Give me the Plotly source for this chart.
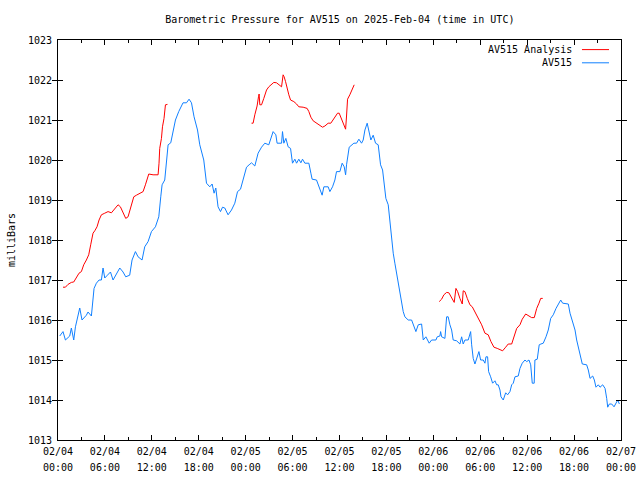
import plotly.graph_objects as go

# ---- data (hours since 2025-02-04 00:00 UTC, pressure in mbar) ----
obs_hours = [0.22, 0.64, 0.95, 1.50, 1.71, 2.01, 2.23, 2.56, 2.78, 3.07, 3.63, 3.84, 4.27, 4.61, 4.91,
             5.25, 5.55, 5.76, 5.98, 6.32, 6.71, 7.04, 7.47, 7.90, 8.32, 8.66, 9.17, 9.47, 9.90, 10.24,
             10.75, 11.09, 11.52, 11.95, 12.46, 12.89, 13.14, 13.31, 13.65, 13.87, 14.08, 14.42, 14.72,
             15.02, 15.44, 15.79, 15.99, 16.43, 16.76, 17.07, 17.40, 17.84, 18.13, 18.64, 18.99, 19.41,
             19.71, 19.96, 20.18, 20.47, 20.78, 21.04, 21.33, 21.75, 22.19, 22.61, 22.96, 23.34, 23.67,
             24.11, 24.44, 24.75, 25.17, 25.59, 26.03, 26.45, 26.96, 27.18, 27.51, 27.86, 28.02, 28.59,
             28.71, 28.88, 29.14, 29.43, 29.74, 29.99, 30.29, 30.51, 30.80, 31.06, 31.27, 31.57, 32.08,
             32.34, 32.50, 33.06, 33.40, 33.78, 34.00, 34.55, 34.77, 35.11, 35.41, 35.62, 36.05, 36.34,
             36.60, 36.78, 36.90, 37.03, 37.24, 37.84, 38.18, 38.48, 38.82, 39.03, 39.25, 39.54, 39.80,
             40.01, 40.31, 40.61, 40.95, 41.25, 41.51, 41.68, 41.93, 42.23, 42.44, 42.66, 42.87, 43.08,
             43.30, 43.51, 43.72, 43.94, 44.15, 44.36, 44.79, 45.22, 45.52, 45.77, 46.07, 46.50, 46.71,
             47.05, 47.47, 47.78, 48.33, 48.50, 48.84, 48.93, 49.06, 49.48, 49.70, 49.90, 50.12, 50.34,
             50.54, 50.98, 51.40, 51.62, 51.82, 52.04, 52.46, 52.77, 52.90, 53.10, 53.32, 53.54, 53.83,
             54.05, 54.38, 54.60, 54.73, 54.94, 55.07, 55.33, 55.58, 55.88, 56.10, 56.30, 56.52, 56.65,
             56.94, 57.25, 57.50, 57.80, 58.02, 58.22, 58.44, 58.86, 59.08, 59.37, 59.72, 59.94, 60.23,
             60.45, 60.65, 60.90, 60.99, 61.29, 61.54, 61.76, 62.06, 62.41, 62.70, 63.01, 63.34, 63.69,
             63.98, 64.29, 64.54, 65.05, 65.26, 65.48, 65.82, 66.12, 66.33, 66.62, 66.84, 67.05, 67.61,
             67.82, 68.04, 68.38, 68.59, 68.80, 69.10, 69.32, 69.66, 69.96, 70.17, 70.30, 70.51, 70.81,
             71.11, 71.36, 71.58, 71.79]
obs_mbar = [1015.60, 1015.71, 1015.50, 1015.60, 1015.80, 1015.50, 1015.83, 1016.08, 1016.30, 1016.00,
            1016.12, 1016.20, 1016.10, 1016.79, 1016.92, 1017.00, 1017.00, 1017.30, 1017.05, 1017.12,
            1017.20, 1017.00, 1017.17, 1017.30, 1017.20, 1017.08, 1017.12, 1017.50, 1017.71, 1017.58,
            1017.50, 1017.83, 1017.96, 1018.21, 1018.33, 1018.58, 1019.08, 1019.38, 1019.50, 1019.92,
            1020.38, 1020.43, 1020.71, 1021.00, 1021.21, 1021.35, 1021.43, 1021.43, 1021.52, 1021.43,
            1021.08, 1020.75, 1020.38, 1020.00, 1019.42, 1019.33, 1019.40, 1019.17, 1019.30, 1018.83,
            1018.71, 1018.82, 1018.80, 1018.63, 1018.75, 1018.92, 1019.21, 1019.27, 1019.50, 1019.82,
            1019.88, 1019.93, 1019.85, 1020.17, 1020.32, 1020.42, 1020.38, 1020.50, 1020.71, 1020.63,
            1020.42, 1020.42, 1020.71, 1020.42, 1020.54, 1020.33, 1020.29, 1019.92, 1020.02, 1019.92,
            1020.02, 1019.93, 1020.02, 1019.92, 1019.92, 1019.67, 1019.52, 1019.50, 1019.33, 1019.12,
            1019.33, 1019.33, 1019.21, 1019.33, 1019.50, 1019.71, 1019.71, 1019.92, 1019.83, 1019.63,
            1019.88, 1020.08, 1020.32, 1020.42, 1020.42, 1020.52, 1020.42, 1020.50, 1020.75, 1020.92,
            1020.71, 1020.50, 1020.62, 1020.42, 1020.38, 1019.88, 1019.75, 1019.42, 1019.04, 1018.88,
            1018.42, 1018.00, 1017.67, 1017.42, 1017.17, 1017.04, 1016.75, 1016.46, 1016.21, 1016.08,
            1016.00, 1016.00, 1015.83, 1015.71, 1015.88, 1015.90, 1015.50, 1015.58, 1015.42, 1015.50,
            1015.50, 1015.58, 1015.60, 1015.71, 1015.58, 1015.54, 1016.08, 1016.08, 1015.88, 1015.75,
            1015.50, 1015.48, 1015.40, 1015.58, 1015.40, 1015.50, 1015.50, 1015.71, 1015.38, 1015.04,
            1014.90, 1015.04, 1015.21, 1015.00, 1015.00, 1014.92, 1015.08, 1015.08, 1014.71, 1014.58,
            1014.42, 1014.48, 1014.38, 1014.38, 1014.25, 1014.08, 1014.00, 1014.18, 1014.13, 1014.21,
            1014.38, 1014.42, 1014.58, 1014.60, 1014.79, 1014.92, 1015.00, 1014.96, 1015.00, 1014.88,
            1014.42, 1014.42, 1015.00, 1015.02, 1015.38, 1015.40, 1015.42, 1015.58, 1015.75, 1016.04,
            1016.13, 1016.29, 1016.38, 1016.50, 1016.42, 1016.40, 1016.40, 1016.17, 1015.96, 1015.75,
            1015.50, 1015.25, 1015.08, 1014.90, 1014.88, 1014.75, 1014.54, 1014.60, 1014.50, 1014.32,
            1014.38, 1014.32, 1014.38, 1014.29, 1014.04, 1013.82, 1013.90, 1013.90, 1013.83, 1013.93,
            1014.00, 1013.90]

ana_hours = [0.64, 0.95, 1.28, 1.71, 2.01, 2.35, 2.69, 2.99, 3.29, 3.63, 3.93, 4.18, 4.48, 4.70, 4.99,
             5.25, 5.55, 5.98, 6.40, 6.83, 7.17, 7.68, 7.98, 8.32, 8.66, 8.96, 9.30, 9.69, 10.03, 10.45,
             10.88, 11.18, 11.61, 12.16, 12.80, 12.92, 13.01, 13.23, 13.36, 13.56, 13.74, 14.00,
             None,
             24.75, 24.95, 25.17, 25.46, 25.64, 25.72, 25.81, 26.03, 26.32, 26.67, 26.96, 27.31, 27.60,
             27.95, 28.24, 28.59, 28.79, 28.92, 29.10, 29.30, 29.52, 29.74, 30.16, 30.51, 30.80, 31.35,
             31.86, 32.08, 32.34, 32.63, 33.06, 33.49, 33.83, 34.13, 34.55, 34.89, 35.19, 35.50, 35.75,
             35.96, 36.26, 36.47, 36.78, 36.90, 37.03, 37.32, 37.62, 37.88,
             None,
             48.75, 49.06, 49.35, 49.70, 49.99, 50.34, 50.67, 50.89, 51.11, 51.40, 51.70, 51.82, 52.04,
             52.34, 52.68, 52.98, 53.32, 53.74, 54.18, 54.60, 55.02, 55.37, 55.75, 56.17, 56.52, 56.86,
             57.25, 57.58, 58.02, 58.31, 58.66, 59.08, 59.37, 59.81, 60.23, 60.57, 60.91, 61.22, 61.51,
             61.73, 61.99]
ana_mbar = [1016.82, 1016.82, 1016.89, 1016.94, 1016.95, 1017.07, 1017.17, 1017.21, 1017.38, 1017.50,
            1017.63, 1017.88, 1018.17, 1018.23, 1018.33, 1018.50, 1018.63, 1018.67, 1018.71, 1018.68,
            1018.75, 1018.88, 1018.83, 1018.67, 1018.54, 1018.58, 1018.83, 1019.08, 1019.12, 1019.17,
            1019.21, 1019.38, 1019.65, 1019.63, 1019.63, 1019.92, 1020.29, 1020.54, 1020.83, 1021.04,
            1021.38, 1021.39,
            None,
            1020.92, 1020.92, 1021.13, 1021.35, 1021.58, 1021.65, 1021.38, 1021.38, 1021.54, 1021.75,
            1021.83, 1021.90, 1021.94, 1021.93, 1021.88, 1021.83, 1022.13, 1022.08, 1021.96, 1021.79,
            1021.63, 1021.50, 1021.46, 1021.40, 1021.33, 1021.32, 1021.29, 1021.21, 1021.07, 1020.98,
            1020.93, 1020.86, 1020.82, 1020.85, 1020.92, 1020.92, 1021.02, 1021.10, 1021.17, 1021.17,
            1021.04, 1020.94, 1020.77, 1021.10, 1021.52, 1021.63, 1021.77, 1021.88,
            None,
            1016.46, 1016.52, 1016.63, 1016.69, 1016.68, 1016.57, 1016.44, 1016.79, 1016.71, 1016.54,
            1016.40, 1016.73, 1016.71, 1016.54, 1016.38, 1016.33, 1016.21, 1016.04, 1015.88, 1015.67,
            1015.63, 1015.46, 1015.32, 1015.29, 1015.25, 1015.23, 1015.32, 1015.40, 1015.40, 1015.58,
            1015.79, 1015.88, 1016.02, 1016.15, 1016.10, 1016.06, 1016.06, 1016.29, 1016.42, 1016.54,
            1016.54]

tick_hours = [0, 6, 12, 18, 24, 30, 36, 42, 48, 54, 60, 66, 72]
tick_dates = ["02/04", "02/04", "02/04", "02/04", "02/05", "02/05", "02/05", "02/05",
              "02/06", "02/06", "02/06", "02/06", "02/07"]
tick_times = ["00:00", "06:00", "12:00", "18:00", "00:00", "06:00", "12:00", "18:00",
              "00:00", "06:00", "12:00", "18:00", "00:00"]
y_ticks = list(range(1013, 1024))

RED = "#ff0000"
BLUE = "#1080ff"
FONT = "DejaVu Sans Mono"

fig = go.Figure()
fig.add_trace(go.Scatter(x=ana_hours, y=ana_mbar, mode="lines", name="AV515 Analysis",
                         line=dict(color=RED, width=1), connectgaps=False))
fig.add_trace(go.Scatter(x=obs_hours, y=obs_mbar, mode="lines", name="AV515",
                         line=dict(color=BLUE, width=1)))

fig.update_layout(
    width=640, height=480,
    margin=dict(l=58, r=19, t=40, b=40, autoexpand=False),
    paper_bgcolor="white", plot_bgcolor="white",
    showlegend=False,
    font=dict(family=FONT, size=10, color="black"),
    title=dict(text="Barometric Pressure for AV515 on 2025-Feb-04 (time in UTC)",
               x=0.531, xanchor="center", xref="container",
               y=0.960, yanchor="middle", yref="container",
               font=dict(family=FONT, size=10, color="black")),
    xaxis=dict(range=[0, 72], tickvals=tick_hours, ticktext=tick_dates, automargin=False,
               ticks="inside", ticklen=5, tickcolor="black", tickwidth=1,
               minor=dict(dtick=3, tick0=0, ticks="inside", ticklen=3, tickcolor="black"),
               showline=True, linecolor="black", linewidth=1, mirror="allticks",
               showgrid=False, zeroline=False, ticklabelstandoff=2,
               tickfont=dict(family=FONT, size=10)),
    xaxis2=dict(range=[0, 72], overlaying="x", anchor="y", side="bottom", automargin=False,
                tickvals=tick_hours, ticktext=tick_times, ticks="",
                showline=False, showgrid=False, zeroline=False, ticklabelstandoff=20,
                tickfont=dict(family=FONT, size=10)),
    yaxis=dict(range=[1013, 1023], tickvals=y_ticks, ticks="inside", ticklen=5, automargin=False,
               tickcolor="black", showline=True, linecolor="black", linewidth=1,
               mirror="allticks", showgrid=False, zeroline=False, ticklabelstandoff=3,
               tickfont=dict(family=FONT, size=10),
               title=dict(text="milliBars", font=dict(family=FONT, size=10), standoff=10)),
)

# invisible trace so the time-of-day label axis is drawn
fig.add_trace(go.Scatter(x=[0, 72], y=[None, None], xaxis="x2", yaxis="y",
                         mode="lines", showlegend=False, hoverinfo="skip"))

# gnuplot-style key: text right-aligned, sample line to the right
key_rows = [("AV515 Analysis", RED, 0.976), ("AV515", BLUE, 0.943)]
for label, col, yy in key_rows:
    fig.add_annotation(text=label, xref="paper", yref="paper", x=0.9165, y=yy,
                       xanchor="right", yanchor="middle", showarrow=False,
                       font=dict(family=FONT, size=10, color="black"))
    fig.add_shape(type="line", xref="paper", yref="paper", x0=0.9307, x1=0.9787,
                  y0=yy, y1=yy, line=dict(color=col, width=1))

fig.write_html("out.html",
               config={"displayModeBar": False},
               post_script="document.body.style.margin='0';document.body.style.overflow='hidden';")
